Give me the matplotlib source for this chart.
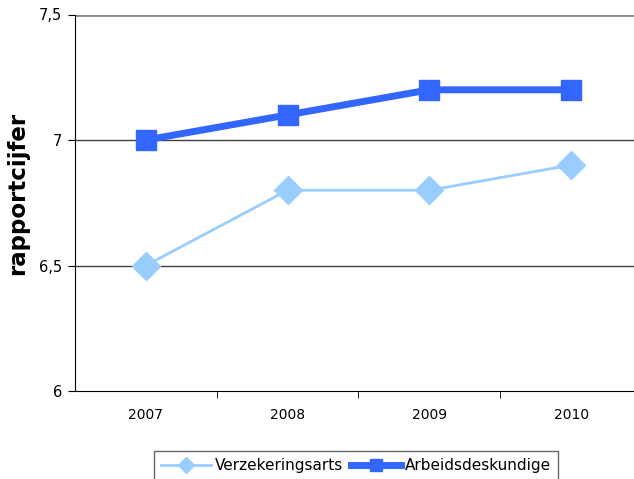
import matplotlib

matplotlib.use("Agg")
import matplotlib.pyplot as plt
from matplotlib.ticker import FixedLocator, FuncFormatter

years = ["2007", "2008", "2009", "2010"]
verzekeringsarts = [6.5, 6.8, 6.8, 6.9]
arbeidsdeskundige = [7.0, 7.1, 7.2, 7.2]
y_ticks = [6.0, 6.5, 7.0, 7.5]

plt.rcParams["font.family"] = ["DejaVu Sans"]

fig = plt.figure(figsize=(6.34, 4.79), dpi=100)
ax = fig.add_axes([75 / 634, 88 / 479, 559 / 634, 376.5 / 479])

x = list(range(len(years)))

ax.plot(
    x,
    verzekeringsarts,
    color="#99CCFF",
    linewidth=2,
    marker="D",
    markersize=14,
    label="Verzekeringsarts",
    zorder=3,
)
ax.plot(
    x,
    arbeidsdeskundige,
    color="#3366FF",
    linewidth=5,
    marker="s",
    markersize=14,
    label="Arbeidsdeskundige",
    zorder=4,
)

# y axis with comma decimals and horizontal gridlines
ax.set_ylim(6.0, 7.5)
ax.set_yticks(y_ticks)
ax.yaxis.set_major_formatter(
    FuncFormatter(lambda v, _: f"{v:g}".replace(".", ","))
)
for v in y_ticks[1:]:
    ax.axhline(v, color="#404040" if v < 7.5 else "#888888",
               linewidth=1 if v < 7.5 else 2, zorder=1)

# category axis, ticks between categories
ax.set_xlim(-0.5, 3.5 - 8 / 142)
ax.set_xticks(x)
ax.set_xticklabels(years)
ax.xaxis.set_minor_locator(FixedLocator([0.5, 1.5, 2.5, 3.5]))
ax.tick_params(axis="x", which="major", length=0, pad=12, labelsize=10)
ax.tick_params(axis="x", which="minor", length=5, direction="out", color="black")
ax.tick_params(axis="y", length=5, direction="out", labelsize=10.5, pad=4)

for side in ["top", "right"]:
    ax.spines[side].set_visible(False)
ax.spines["left"].set_color("black")
ax.spines["bottom"].set_color("black")

ax.set_ylabel("rapportcijfer", fontsize=16.5, fontweight="bold")
ax.yaxis.set_label_coords(-46 / 559, 0.526)

fig.legend(
    loc="upper left",
    bbox_to_anchor=(154 / 634, 1 - 451 / 479),
    ncol=2,
    frameon=True,
    fancybox=False,
    edgecolor="#404040",
    fontsize=11,
    handlelength=3.3,
    handletextpad=0.25,
    columnspacing=0.5,
    markerscale=0.6,
    borderpad=0.45,
    borderaxespad=0,
)

fig.savefig("out.png", facecolor="white")
